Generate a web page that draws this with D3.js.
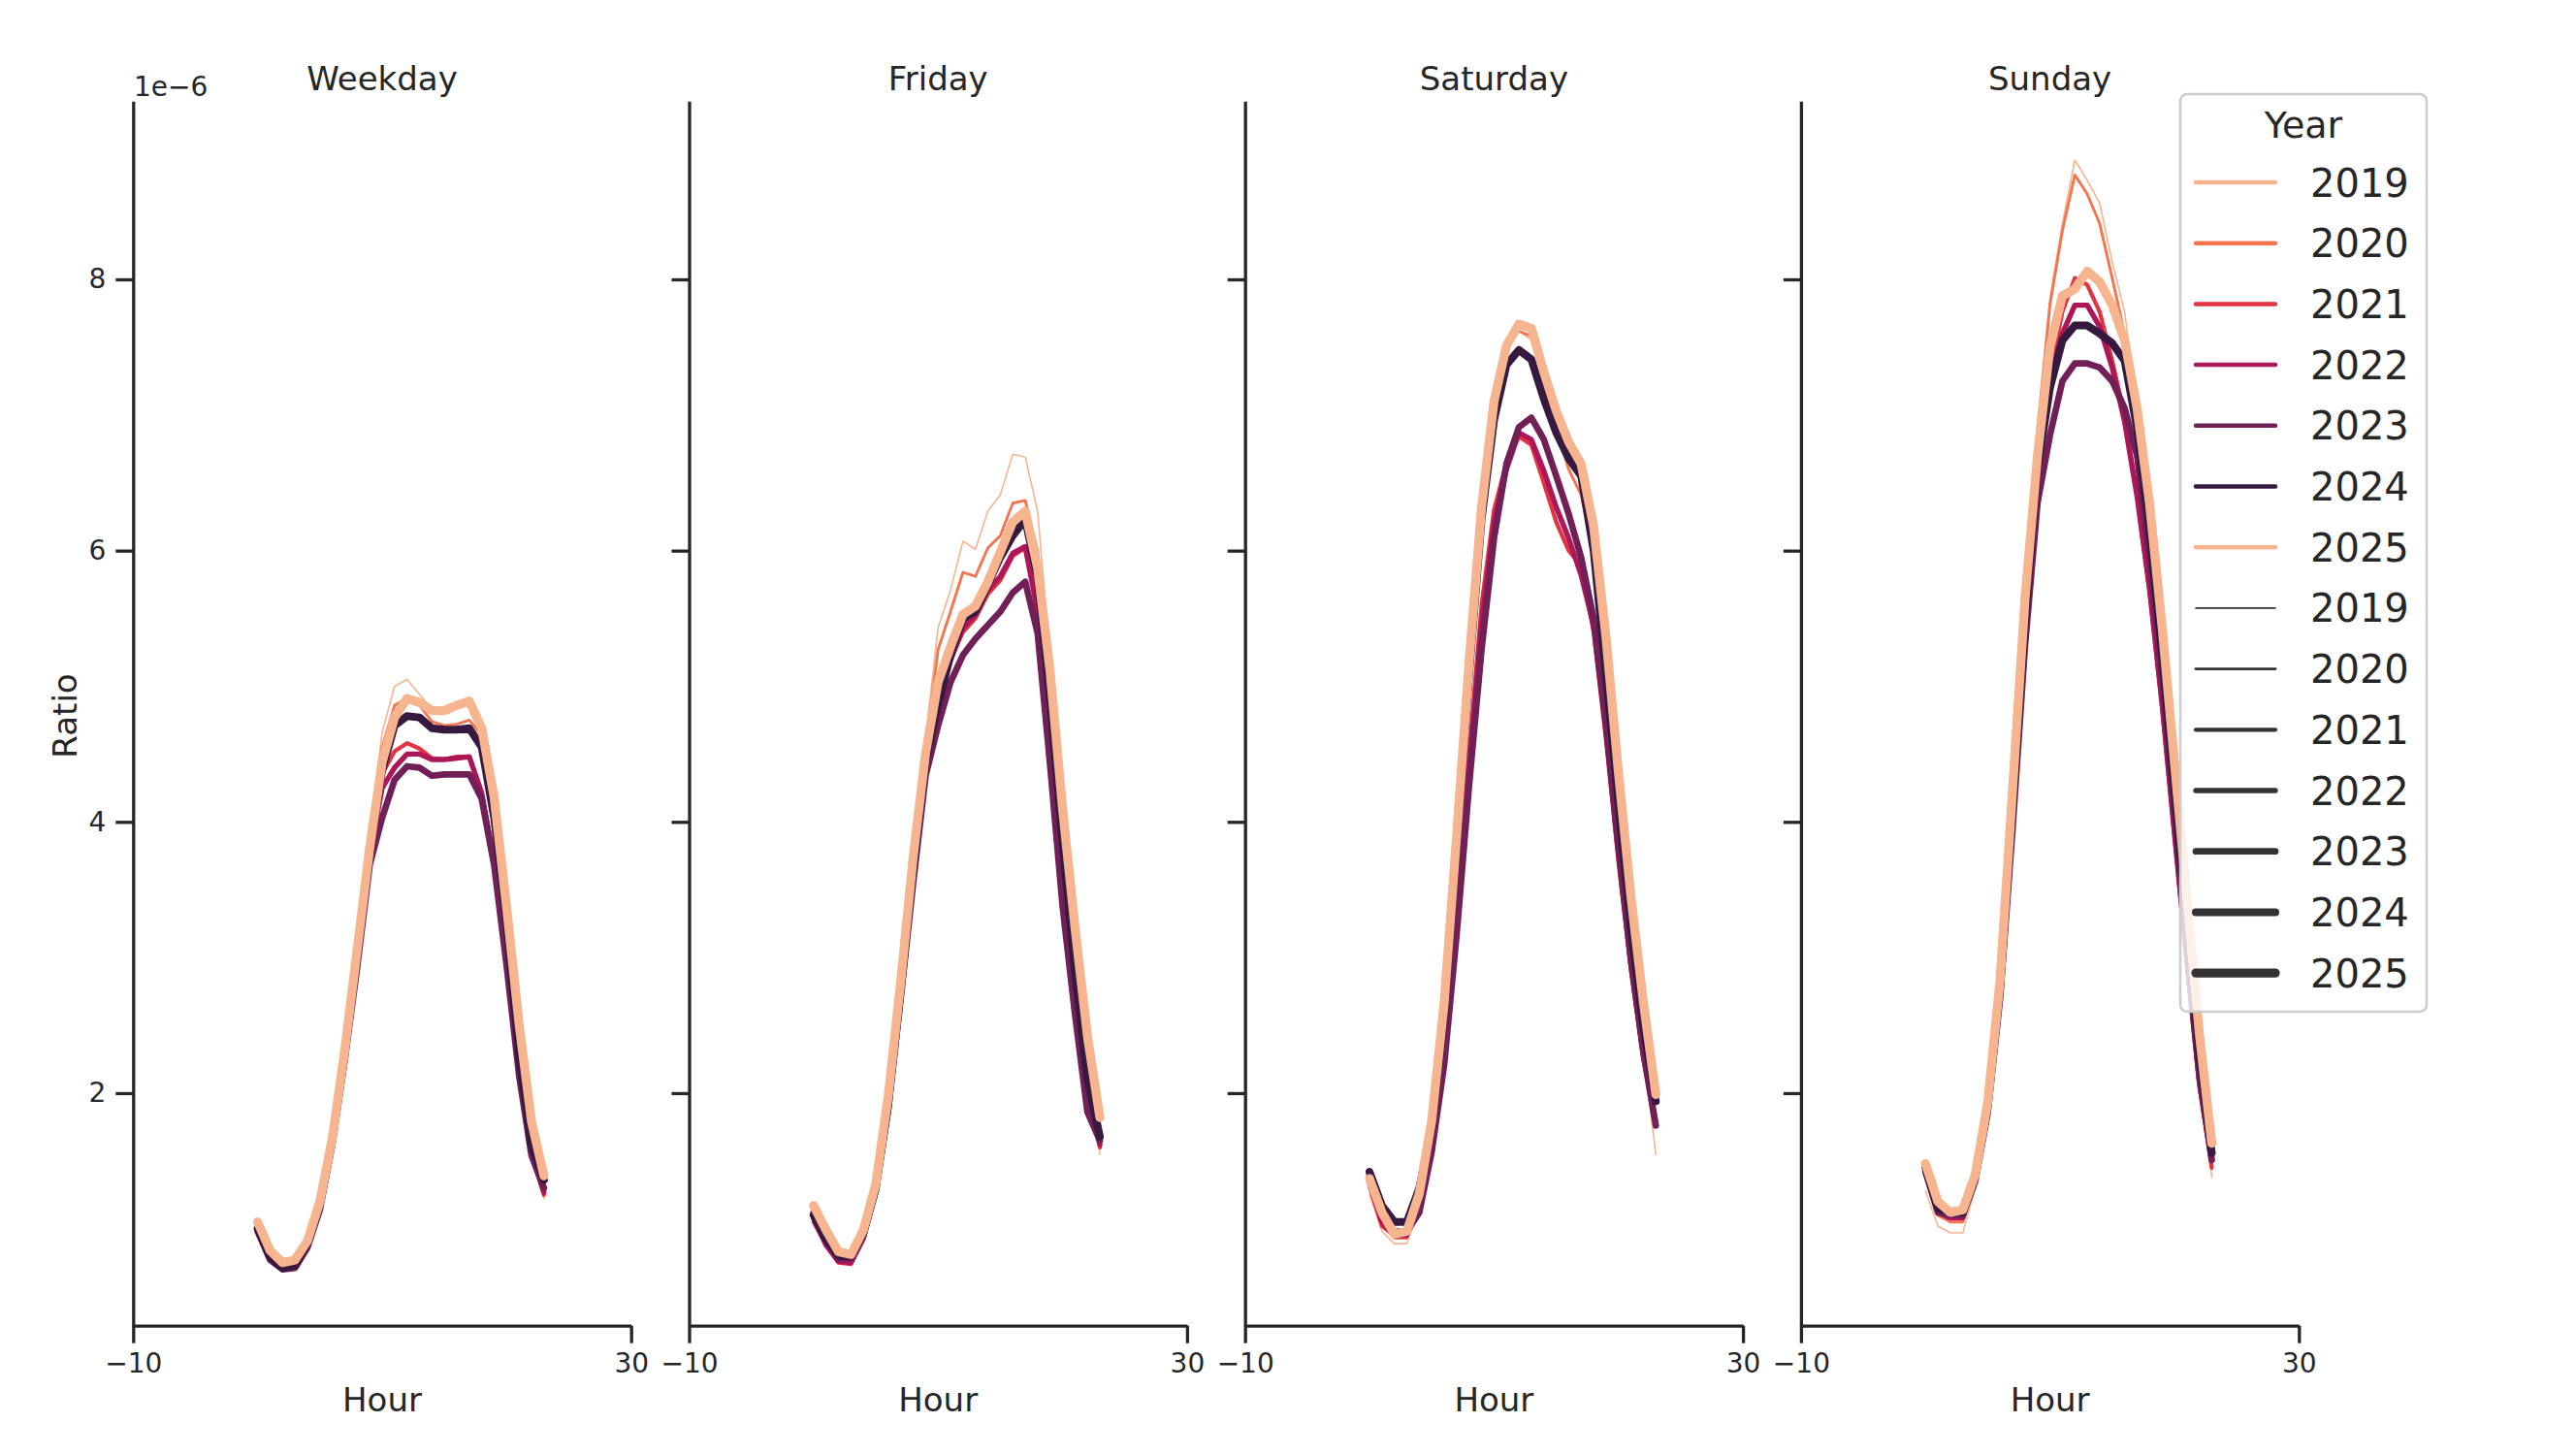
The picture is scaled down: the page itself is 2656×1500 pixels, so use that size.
<!DOCTYPE html>
<html>
<head>
<meta charset="utf-8">
<title>Hourly Ratio by Day Type</title>
<script src="https://cdn.jsdelivr.net/npm/d3@7"></script>
<style>
  body { margin: 0; background: #fff; }
  text { font-family: "DejaVu Sans", sans-serif; fill: #262626; }
</style>
</head>
<body>
<svg id="chart" width="2656" height="1500"></svg>
<script>
var PANELS = ['Weekday', 'Friday', 'Saturday', 'Sunday'];
var YEARS = [2019, 2020, 2021, 2022, 2023, 2024, 2025];
var HOURS = [0, 1, 2, 3, 4, 5, 6, 7, 8, 9, 10, 11, 12, 13, 14, 15, 16, 17, 18, 19, 20, 21, 22, 23];
// rocket palette reversed, 6 colours, so 2025 wraps to the first one
var COLORS = ['#f6b48f', '#f37651', '#e13342', '#ad1759', '#701f57', '#35193e', '#f6b48f'];
var WIDTHS = [1.6, 2.9, 4.2, 5.4, 6.7, 8.0, 9.3];
var X_TICKS = [-10, 30];
var Y_TICKS = [2, 4, 6, 8];

// ratio values in units of 1e-6, one row per year (2019 .. 2025)
var weekday = [
  [1.02, 0.80, 0.72, 0.74, 0.90, 1.22, 1.72, 2.40, 3.12, 3.92, 4.66, 5.00, 5.05, 4.94, 4.83, 4.83, 4.86, 4.89, 4.68, 4.18, 3.33, 2.40, 1.70, 1.22],
  [1.03, 0.80, 0.72, 0.74, 0.90, 1.20, 1.70, 2.38, 3.10, 3.88, 4.55, 4.86, 4.91, 4.86, 4.74, 4.71, 4.72, 4.75, 4.64, 4.12, 3.28, 2.35, 1.65, 1.28],
  [1.00, 0.78, 0.71, 0.72, 0.88, 1.18, 1.66, 2.30, 3.00, 3.78, 4.35, 4.52, 4.58, 4.54, 4.47, 4.46, 4.48, 4.48, 4.22, 3.72, 2.98, 2.15, 1.55, 1.25],
  [1.00, 0.78, 0.70, 0.72, 0.88, 1.17, 1.65, 2.28, 2.98, 3.75, 4.25, 4.40, 4.50, 4.50, 4.46, 4.46, 4.47, 4.48, 4.21, 3.70, 2.96, 2.14, 1.55, 1.27],
  [0.98, 0.77, 0.70, 0.71, 0.86, 1.14, 1.62, 2.24, 2.93, 3.68, 4.03, 4.31, 4.41, 4.40, 4.34, 4.35, 4.35, 4.35, 4.17, 3.68, 2.94, 2.13, 1.54, 1.30],
  [1.00, 0.79, 0.71, 0.73, 0.89, 1.18, 1.66, 2.30, 3.02, 3.80, 4.38, 4.71, 4.78, 4.77, 4.69, 4.68, 4.68, 4.69, 4.55, 4.03, 3.25, 2.29, 1.61, 1.36],
  [1.05, 0.84, 0.75, 0.77, 0.91, 1.20, 1.67, 2.32, 3.06, 3.81, 4.44, 4.77, 4.91, 4.88, 4.82, 4.82, 4.86, 4.89, 4.69, 4.18, 3.37, 2.51, 1.79, 1.39]
];
var friday = [
  [1.15, 0.95, 0.80, 0.80, 0.98, 1.32, 1.98, 2.85, 3.80, 4.62, 5.43, 5.71, 6.07, 6.01, 6.29, 6.41, 6.71, 6.69, 6.29, 5.20, 4.05, 3.15, 2.35, 1.55],
  [1.15, 0.95, 0.82, 0.82, 0.98, 1.32, 1.96, 2.82, 3.75, 4.55, 5.27, 5.55, 5.84, 5.81, 6.02, 6.11, 6.35, 6.37, 5.99, 5.15, 4.10, 3.20, 2.40, 1.75],
  [1.05, 0.88, 0.75, 0.74, 0.92, 1.27, 1.90, 2.75, 3.65, 4.45, 4.95, 5.20, 5.40, 5.50, 5.68, 5.78, 5.96, 6.02, 5.55, 4.75, 3.75, 2.85, 2.05, 1.60],
  [1.08, 0.88, 0.76, 0.75, 0.93, 1.28, 1.92, 2.76, 3.66, 4.45, 4.95, 5.19, 5.43, 5.53, 5.71, 5.81, 5.98, 6.03, 5.55, 4.72, 3.70, 2.80, 2.00, 1.62],
  [1.12, 0.92, 0.78, 0.78, 0.95, 1.28, 1.88, 2.70, 3.55, 4.34, 4.71, 5.03, 5.23, 5.35, 5.45, 5.55, 5.69, 5.77, 5.39, 4.42, 3.38, 2.58, 1.86, 1.65],
  [1.10, 0.92, 0.80, 0.80, 0.97, 1.30, 1.92, 2.76, 3.65, 4.45, 4.87, 5.23, 5.50, 5.55, 5.75, 5.95, 6.11, 6.23, 5.80, 4.90, 3.85, 2.90, 2.10, 1.68],
  [1.17, 0.99, 0.83, 0.81, 0.99, 1.33, 1.98, 2.82, 3.74, 4.51, 5.03, 5.29, 5.53, 5.59, 5.77, 5.99, 6.21, 6.29, 5.87, 5.11, 4.10, 3.22, 2.42, 1.82]
];
var saturday = [
  [1.25, 0.98, 0.89, 0.89, 1.20, 1.75, 2.65, 3.92, 5.22, 6.40, 7.20, 7.57, 7.62, 7.55, 7.25, 6.95, 6.70, 6.55, 6.10, 5.20, 4.15, 3.15, 2.30, 1.55],
  [1.30, 1.05, 0.93, 0.93, 1.22, 1.76, 2.65, 3.90, 5.18, 6.33, 7.12, 7.50, 7.62, 7.58, 7.25, 6.90, 6.60, 6.41, 6.00, 5.20, 4.25, 3.30, 2.50, 1.80],
  [1.32, 1.02, 0.95, 0.95, 1.18, 1.65, 2.40, 3.45, 4.50, 5.60, 6.30, 6.65, 6.84, 6.78, 6.50, 6.21, 6.00, 5.89, 5.40, 4.60, 3.70, 2.90, 2.25, 1.80],
  [1.33, 1.05, 0.95, 0.95, 1.15, 1.62, 2.30, 3.30, 4.40, 5.45, 6.20, 6.60, 6.87, 6.82, 6.59, 6.32, 6.09, 5.82, 5.45, 4.68, 3.78, 2.95, 2.28, 1.78],
  [1.39, 1.12, 0.98, 0.98, 1.12, 1.57, 2.21, 3.17, 4.27, 5.27, 6.09, 6.64, 6.91, 6.98, 6.82, 6.55, 6.27, 5.95, 5.50, 4.72, 3.81, 2.99, 2.30, 1.76],
  [1.42, 1.17, 1.05, 1.05, 1.30, 1.76, 2.58, 3.81, 5.09, 6.23, 6.96, 7.37, 7.48, 7.41, 7.12, 6.87, 6.68, 6.55, 6.00, 5.09, 4.13, 3.22, 2.49, 1.94],
  [1.37, 1.12, 0.96, 0.98, 1.26, 1.80, 2.67, 3.90, 5.18, 6.32, 7.10, 7.51, 7.67, 7.64, 7.32, 7.03, 6.80, 6.64, 6.18, 5.36, 4.36, 3.45, 2.67, 1.99]
];
var sunday = [
  [1.28, 1.02, 0.97, 0.97, 1.30, 1.95, 2.95, 4.40, 5.85, 6.95, 7.86, 8.41, 8.88, 8.73, 8.56, 8.13, 7.76, 7.05, 6.20, 5.20, 4.20, 3.15, 2.20, 1.38],
  [1.40, 1.10, 1.05, 1.05, 1.35, 1.95, 2.90, 4.30, 5.75, 6.85, 7.81, 8.36, 8.77, 8.63, 8.41, 8.01, 7.60, 6.95, 6.20, 5.30, 4.30, 3.30, 2.35, 1.50],
  [1.45, 1.12, 1.08, 1.08, 1.38, 1.92, 2.80, 4.10, 5.50, 6.60, 7.30, 7.76, 8.01, 7.96, 7.76, 7.40, 7.00, 6.40, 5.70, 4.85, 3.90, 2.95, 2.05, 1.45],
  [1.45, 1.12, 1.08, 1.08, 1.38, 1.90, 2.78, 4.05, 5.45, 6.55, 7.25, 7.60, 7.81, 7.81, 7.65, 7.35, 6.95, 6.40, 5.72, 4.88, 3.92, 2.98, 2.08, 1.50],
  [1.42, 1.12, 1.10, 1.10, 1.35, 1.85, 2.70, 3.95, 5.30, 6.35, 6.85, 7.25, 7.38, 7.38, 7.35, 7.25, 7.05, 6.70, 5.95, 5.05, 4.04, 3.04, 2.14, 1.51],
  [1.45, 1.15, 1.12, 1.12, 1.40, 1.90, 2.78, 4.10, 5.50, 6.60, 7.20, 7.55, 7.66, 7.66, 7.60, 7.53, 7.40, 6.90, 6.15, 5.25, 4.24, 3.24, 2.28, 1.56],
  [1.48, 1.20, 1.12, 1.14, 1.40, 1.93, 2.84, 4.24, 5.65, 6.70, 7.50, 7.88, 7.93, 8.06, 7.98, 7.81, 7.55, 7.05, 6.35, 5.45, 4.44, 3.44, 2.44, 1.63]
];
var panelValues = [weekday, friday, saturday, sunday];

var INK = '#262626';
var svg = d3.select('#chart');

// panel geometry (shared y, four facets side by side)
var panelLeft = [137.3, 710.5, 1283.7, 1856.9];
var panelWidth = 513.4;
var plotTop = 104.3, plotBottom = 1366.7;

var y = d3.scaleLinear().domain([0.285, 9.314]).range([plotBottom, plotTop]);

var styleAxis = function (g) {
  g.selectAll('path.domain').attr('stroke', INK).attr('stroke-width', 3.3);
  g.selectAll('.tick line').attr('stroke', INK).attr('stroke-width', 3.3);
  g.selectAll('.tick text').attr('font-size', 28).attr('fill', INK)
    .attr('font-family', '"DejaVu Sans", sans-serif');
};

PANELS.forEach(function (name, p) {
  var x = d3.scaleLinear().domain([-10, 30])
    .range([panelLeft[p], panelLeft[p] + panelWidth]);
  var g = svg.append('g');

  var line = d3.line()
    .x(function (d, i) { return x(HOURS[i]); })
    .y(function (d) { return y(d); });

  panelValues[p].forEach(function (vals, k) {
    g.append('path')
      .attr('d', line(vals))
      .attr('fill', 'none')
      .attr('stroke', COLORS[k])
      .attr('stroke-width', WIDTHS[k])
      .attr('stroke-linejoin', 'round')
      .attr('stroke-linecap', 'round');
  });

  var yAxis = d3.axisLeft(y).tickValues(Y_TICKS).tickSize(18).tickPadding(10)
    .tickSizeOuter(0)
    .tickFormat(p === 0 ? d3.format('d') : function () { return ''; });
  g.append('g').attr('transform', 'translate(' + panelLeft[p] + ',0)')
    .call(yAxis).call(styleAxis);

  var xAxis = d3.axisBottom(x).tickValues(X_TICKS).tickSize(18).tickPadding(10)
    .tickSizeOuter(0)
    .tickFormat(function (d) { return d < 0 ? '\u2212' + Math.abs(d) : '' + d; });
  g.append('g').attr('transform', 'translate(0,' + plotBottom + ')')
    .call(xAxis).call(styleAxis);

  g.append('text')
    .attr('x', panelLeft[p] + panelWidth / 2).attr('y', 93)
    .attr('text-anchor', 'middle').attr('font-size', 34)
    .text(name);

  g.append('text')
    .attr('x', panelLeft[p] + panelWidth / 2).attr('y', 1455)
    .attr('text-anchor', 'middle').attr('font-size', 34)
    .text('Hour');
});

// offset text and y label on the first facet only
svg.append('text').attr('x', 138).attr('y', 99).attr('font-size', 28).text('1e\u22126');
svg.append('text')
  .attr('transform', 'translate(79,738) rotate(-90)')
  .attr('text-anchor', 'middle').attr('font-size', 34)
  .text('Ratio');

// legend: hue entries then size entries, both keyed by year
var lg = svg.append('g');
lg.append('rect')
  .attr('x', 2248).attr('y', 97).attr('width', 254).attr('height', 946)
  .attr('rx', 7).attr('fill', '#fff').attr('fill-opacity', 0.8)
  .attr('stroke', '#cccccc').attr('stroke-width', 2.5);
lg.append('text').attr('x', 2375).attr('y', 142).attr('text-anchor', 'middle')
  .attr('font-size', 38).text('Year');

var rows = YEARS.map(function (yr, k) { return { label: yr, color: COLORS[k], width: 4.5 }; })
  .concat(YEARS.map(function (yr, k) { return { label: yr, color: '#333333', width: WIDTHS[k] }; }));

rows.forEach(function (r, i) {
  var cy = 188 + i * 62.7;
  lg.append('line')
    .attr('x1', 2264).attr('x2', 2346).attr('y1', cy).attr('y2', cy)
    .attr('stroke', r.color).attr('stroke-width', r.width)
    .attr('stroke-linecap', 'round');
  lg.append('text').attr('x', 2382).attr('y', cy + 14.5)
    .attr('font-size', 40).text(r.label);
});
</script>
</body>
</html>
